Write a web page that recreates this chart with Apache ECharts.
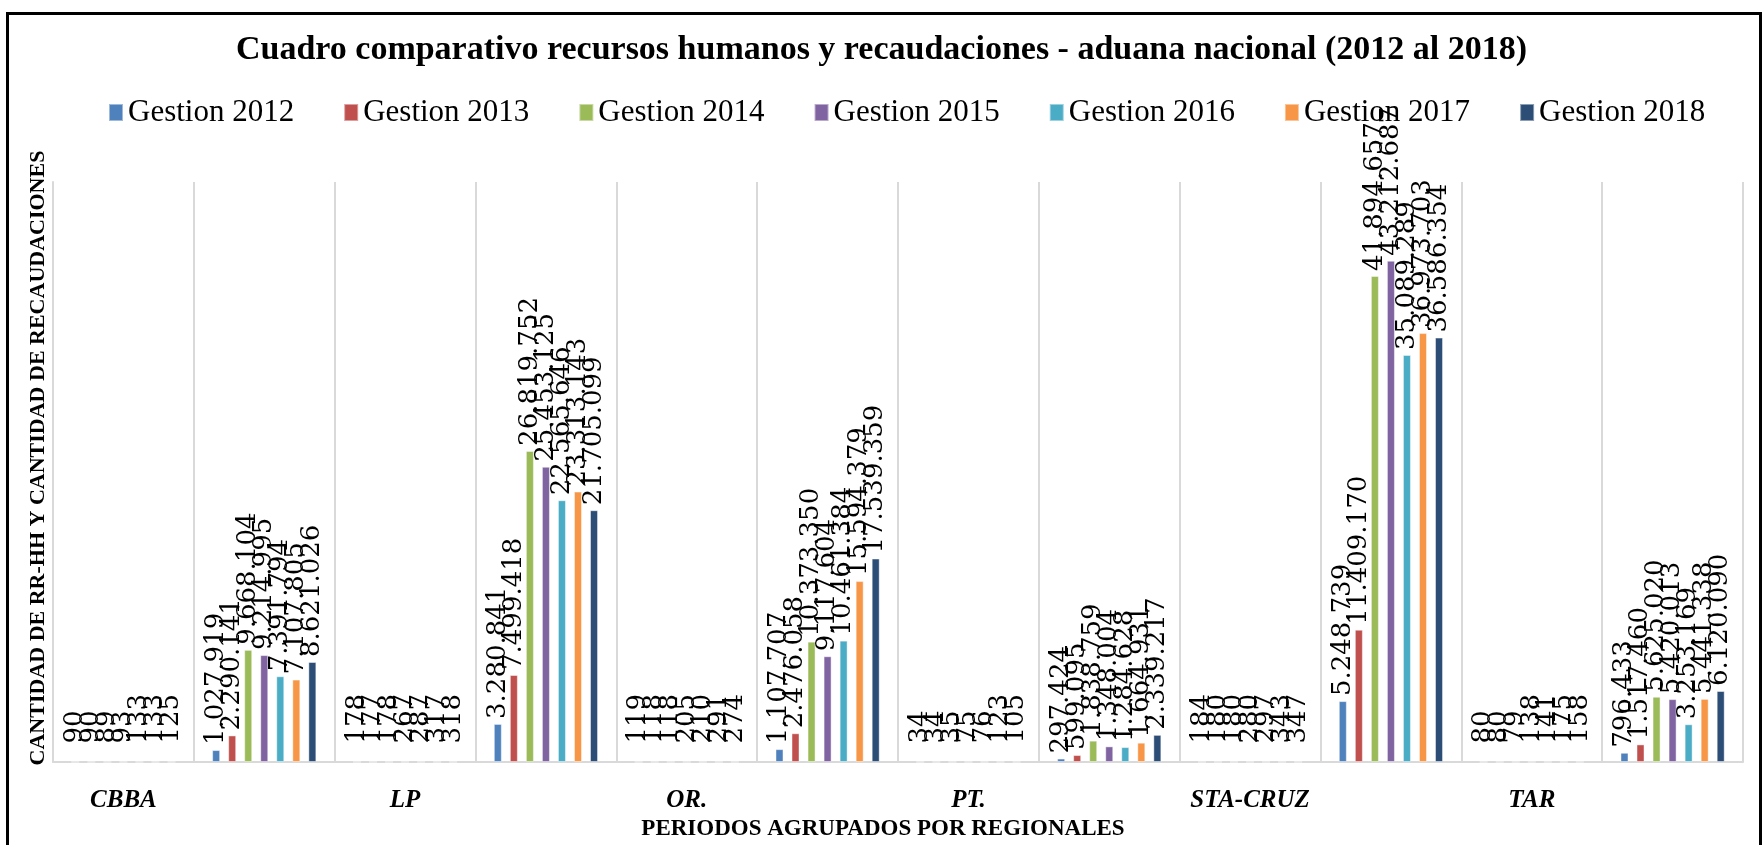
<!DOCTYPE html>
<html>
<head>
<meta charset="utf-8">
<title>Cuadro comparativo</title>
<script src="https://cdn.jsdelivr.net/npm/echarts@6/dist/echarts.min.js"></script>
<style>
  html, body { margin: 0; padding: 0; background: #fff; }
  #chart { width: 1763px; height: 845px; }
</style>
</head>
<body>
<div id="chart"></div>
<script>
// regional groups: even slot = RR-HH count, odd slot = recaudaciones
const categories = ['CBBA', '', 'LP', '', 'OR.', '', 'PT.', '', 'STA-CRUZ', '', 'TAR', ''];
const seriesNames = ['Gestion 2012', 'Gestion 2013', 'Gestion 2014', 'Gestion 2015', 'Gestion 2016', 'Gestion 2017', 'Gestion 2018'];
const colors = ['#4F81BD', '#C0504D', '#9BBB59', '#8064A2', '#4BACC6', '#F79646', '#2C4D75'];

const g2012 = [90, 1027919, 178, 3280841, 119, 1107707, 34, 297424, 184, 5248739, 80, 796433];
const g2013 = [90, 2290141, 177, 7499418, 118, 2476058, 34, 599095, 180, 11409170, 80, 1517460];
const g2014 = [89, 9668104, 178, 26819752, 118, 10373350, 35, 1838759, 180, 41894657, 79, 5625020];
const g2015 = [93, 9214995, 267, 25453125, 205, 9117604, 75, 1348004, 280, 43212687, 138, 5420013];
const g2016 = [133, 7391794, 287, 22565646, 210, 10461384, 76, 1284628, 297, 35089289, 141, 3253169];
const g2017 = [133, 7107805, 317, 23313143, 291, 15594379, 123, 1664931, 343, 36973703, 175, 5441338];
const g2018 = [125, 8621026, 318, 21705099, 274, 17539359, 105, 2339217, 347, 36586354, 158, 6120090];
const allValues = [g2012, g2013, g2014, g2015, g2016, g2017, g2018];

function fmt(v) {
  return String(v).replace(/\B(?=(\d{3})+(?!\d))/g, '.');
}

const chart = echarts.init(document.getElementById('chart'));

const series = allValues.map(function (vals, i) {
  return {
    name: seriesNames[i],
    type: 'bar',
    barGap: '100%',
    barCategoryGap: '26%',
    itemStyle: { color: colors[i], borderColor: 'rgba(255,255,255,0.45)', borderWidth: 1 },
    label: {
      show: true,
      position: 'top',
      rotate: 90,
      align: 'left',
      verticalAlign: 'middle',
      distance: 5,
      fontFamily: 'DejaVu Serif',
      fontSize: 26,
      color: '#000',
      formatter: function (p) { return fmt(p.value); }
    },
    data: vals.map(function (v, j) {
      return j % 2 === 0 ? { value: v, label: { distance: 18 } } : v;
    })
  };
});

const option = {
  animation: false,
  color: colors,
  title: {
    text: 'Cuadro comparativo recursos humanos y recaudaciones - aduana nacional (2012 al 2018)',
    left: 'center',
    top: 28,
    textStyle: { fontFamily: 'Liberation Serif', fontWeight: 'bold', fontSize: 34, color: '#000' }
  },
  legend: {
    data: seriesNames,
    top: 92,
    left: 103,
    itemWidth: 14,
    itemHeight: 17,
    itemGap: 49,
    icon: 'rect',
    textStyle: { fontFamily: 'Liberation Serif', fontSize: 31, color: '#000' }
  },
  grid: { left: 53, right: 20, top: 182, bottom: 83, containLabel: false, outerBoundsMode: 'none' },
  xAxis: {
    type: 'category',
    data: categories,
    name: 'PERIODOS AGRUPADOS POR REGIONALES',
    nameLocation: 'middle',
    nameGap: 55,
    nameTextStyle: { fontFamily: 'Liberation Serif', fontWeight: 'bold', fontSize: 23, color: '#000', padding: [0, 30, 0, 0] },
    axisLine: { lineStyle: { color: '#d9d9d9', width: 2 } },
    axisTick: { show: false },
    splitLine: { show: true, lineStyle: { color: '#d9d9d9', width: 2 } },
    axisLabel: {
      interval: 0,
      margin: 26,
      fontFamily: 'Liberation Serif',
      fontWeight: 'bold',
      fontStyle: 'italic',
      fontSize: 25,
      color: '#000'
    }
  },
  yAxis: {
    type: 'value',
    min: 0,
    max: 50000000,
    name: 'CANTIDAD DE RR-HH Y CANTIDAD DE RECAUDACIONES',
    nameLocation: 'middle',
    nameGap: 4,
    nameTextStyle: { fontFamily: 'Liberation Serif', fontWeight: 'bold', fontSize: 22, color: '#000', padding: [0, 0, 0, 28] },
    axisLine: { show: true, lineStyle: { color: '#d9d9d9', width: 2 } },
    axisTick: { show: false },
    axisLabel: { show: false },
    splitLine: { show: false }
  },
  graphic: [{
    type: 'rect',
    left: 5,
    top: 11,
    shape: { width: 1753, height: 850 },
    style: { fill: 'none', stroke: '#000', lineWidth: 3 },
    silent: true,
    z: 100
  }],
  series: series
};

chart.setOption(option);
</script>
</body>
</html>
